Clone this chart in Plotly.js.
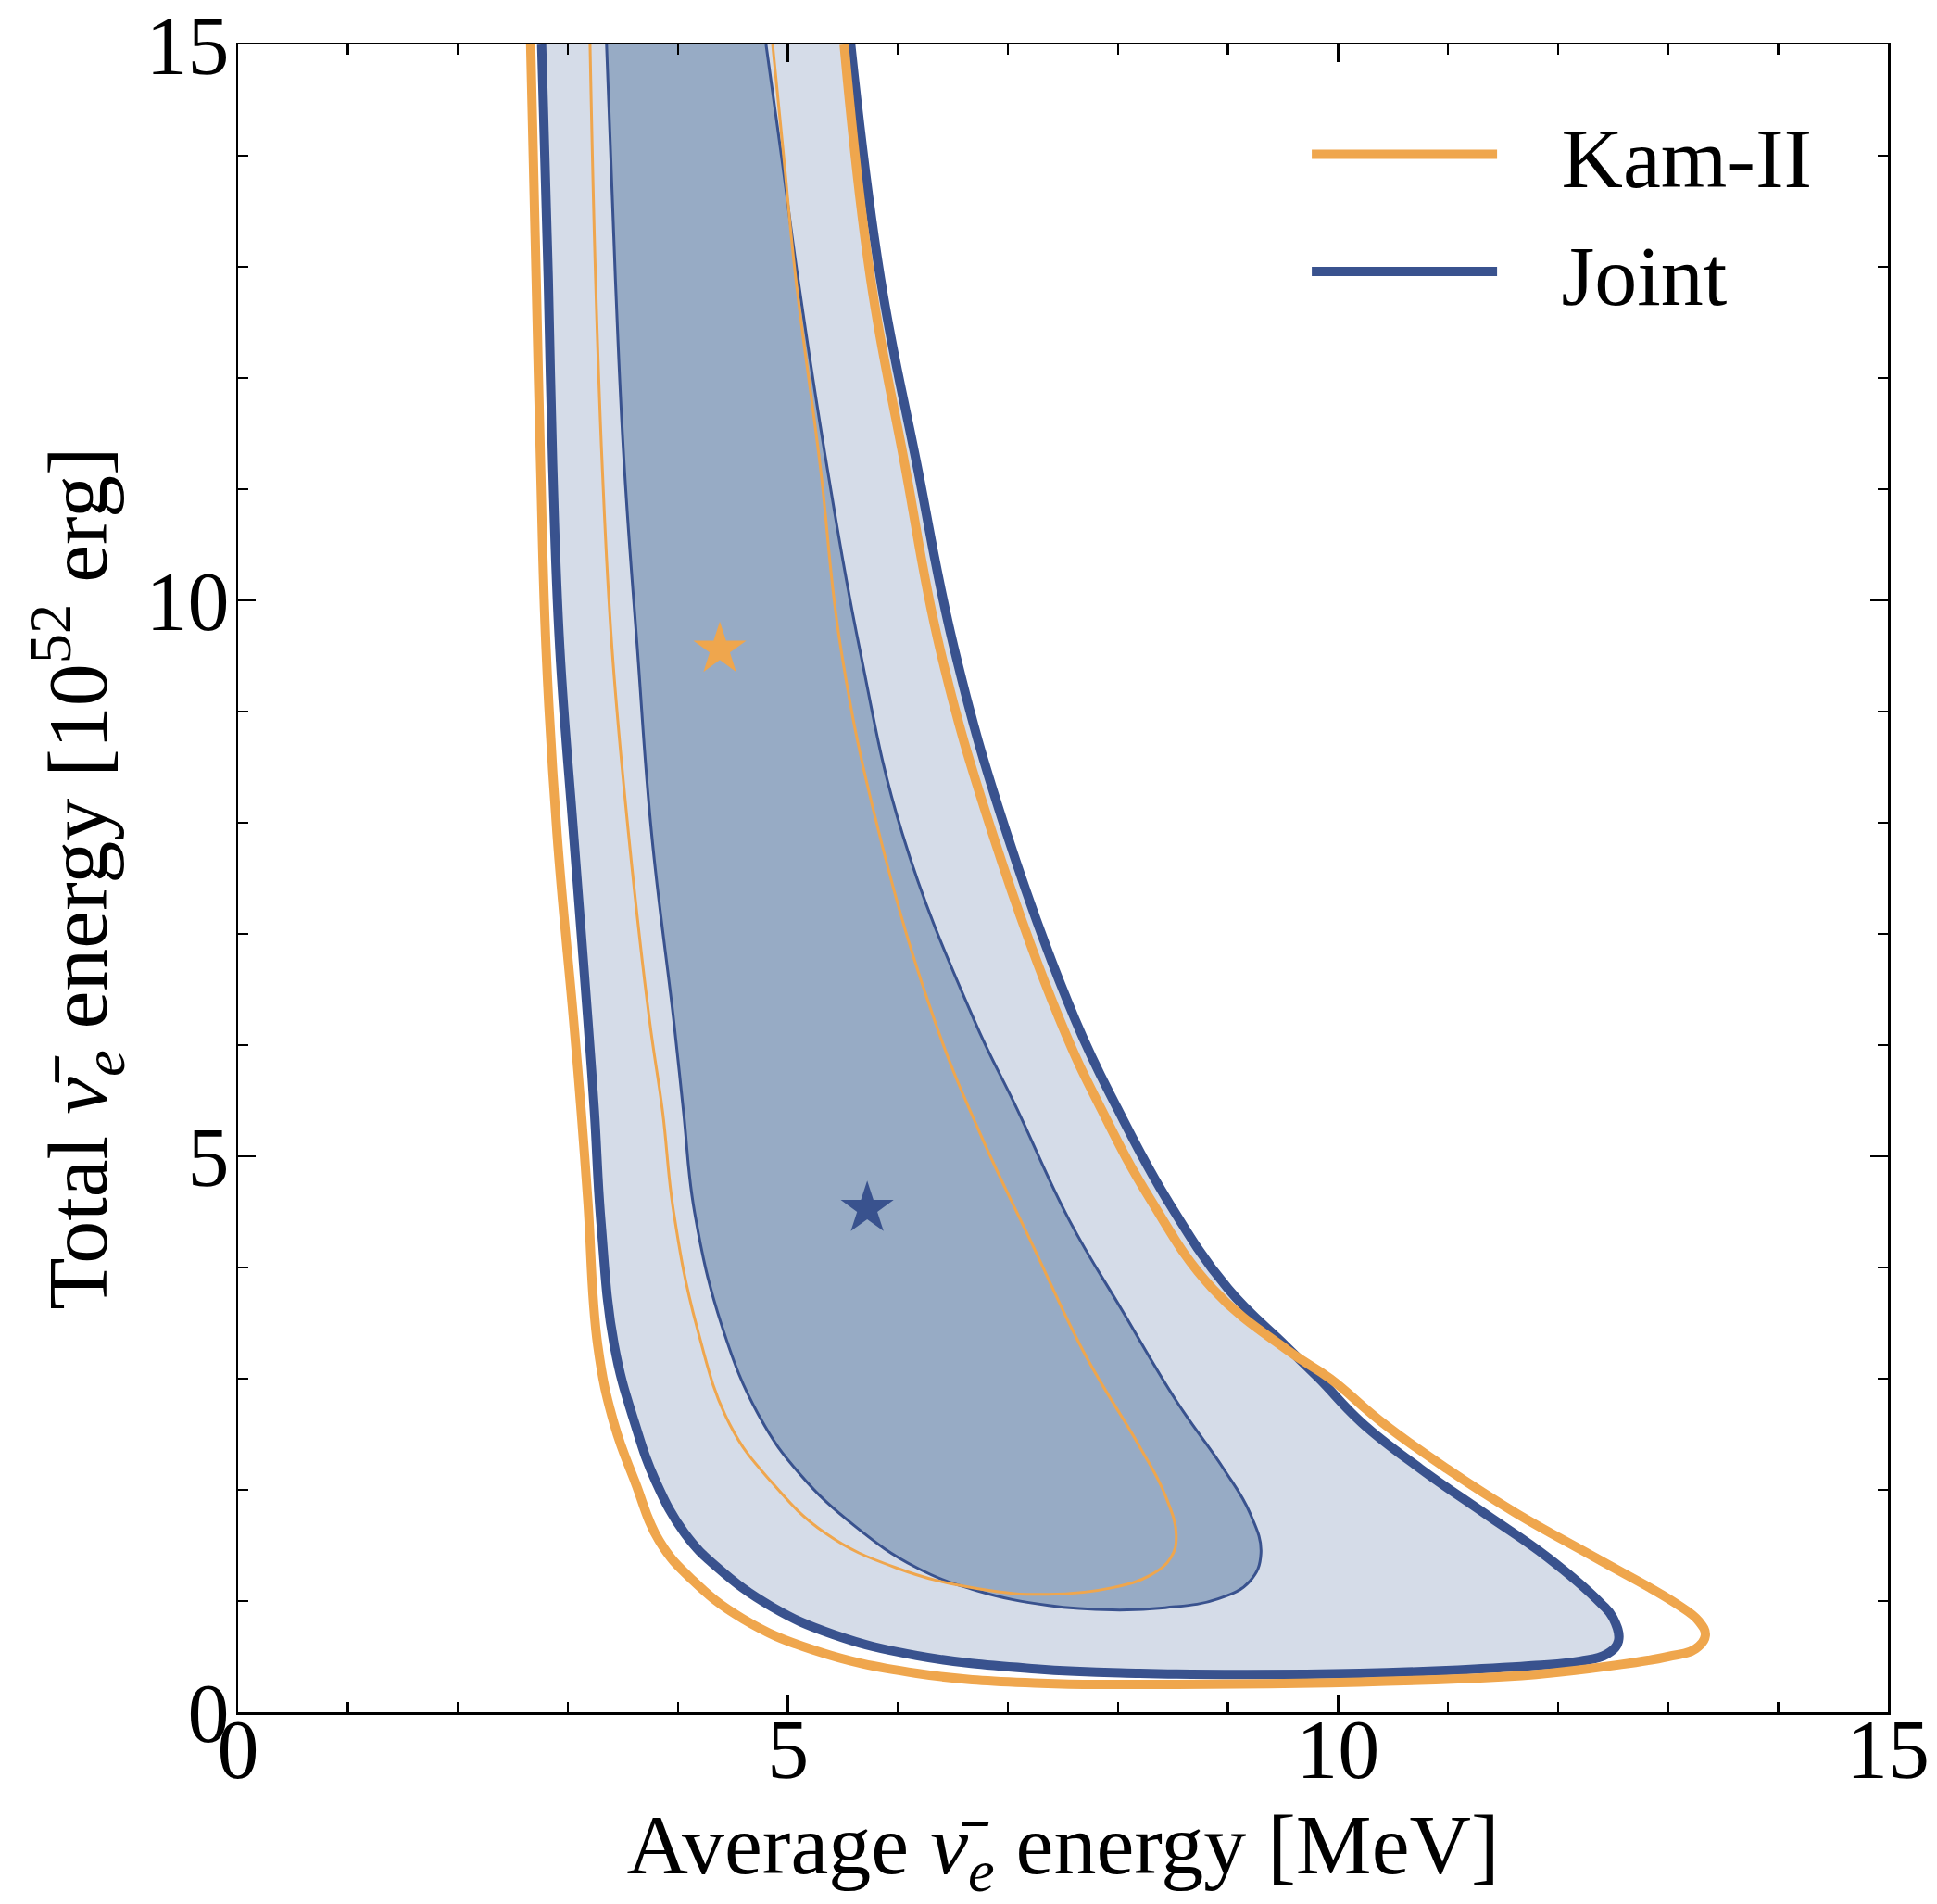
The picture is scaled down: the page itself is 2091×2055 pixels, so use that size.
<!DOCTYPE html>
<html><head><meta charset="utf-8">
<script src="https://cdn.plot.ly/plotly-3.0.1.min.js"></script>
<style>html,body{margin:0;padding:0;background:#fff}</style>
</head><body>
<div id="chart" style="width:2091px;height:2055px"></div>
<script>
// Kam-II 90% contour
const kam90X = [2.66, 2.71, 2.75, 2.80, 2.90, 3.05, 3.12, 3.18, 3.27, 3.42, 3.61, 3.83, 4.13, 4.59, 5.23, 6.17, 7.30, 8.19, 9.64, 11.09, 11.80, 12.50, 13.00, 13.25, 13.34, 13.28, 13.07, 12.34, 11.62, 10.99, 10.41, 9.93, 9.55, 8.86, 8.29, 7.85, 7.47, 6.86, 6.38, 6.06, 5.75, 5.51];
const kam90Y = [15.0, 12.9, 11.23, 9.57, 7.9, 6.23, 5.4, 4.6, 3.30, 2.59, 2.07, 1.54, 1.19, 0.84, 0.56, 0.35, 0.26, 0.25, 0.26, 0.30, 0.34, 0.42, 0.50, 0.57, 0.69, 0.82, 0.98, 1.39, 1.79, 2.19, 2.60, 3.00, 3.25, 3.81, 4.62, 5.42, 6.23, 7.9, 9.57, 11.23, 12.9, 15.0];
// Kam-II 68% contour
const kam68X = [3.20, 3.25, 3.31, 3.40, 3.55, 3.74, 3.86, 3.96, 4.17, 4.47, 4.85, 5.34, 5.98, 6.73, 7.37, 7.95, 8.29, 8.48, 8.53, 8.43, 8.19, 7.71, 7.22, 6.74, 6.33, 5.83, 5.48, 5.29, 5.07, 4.96, 4.86];
const kam68Y = [15.0, 12.9, 11.23, 9.57, 7.9, 6.23, 5.4, 4.5, 3.47, 2.59, 2.07, 1.61, 1.30, 1.11, 1.06, 1.12, 1.23, 1.39, 1.59, 1.95, 2.40, 3.20, 4.21, 5.22, 6.23, 7.9, 9.57, 11.23, 12.9, 14.0, 15.0];
// Joint 90% contour
const joint90X = [2.76, 2.82, 2.86, 2.925, 3.05, 3.18, 3.24, 3.30, 3.42, 3.61, 3.80, 4.06, 4.36, 4.85, 5.41, 6.17, 7.25, 8.20, 9.15, 10.20, 11.09, 11.80, 12.20, 12.44, 12.55, 12.50, 12.39, 11.91, 11.33, 10.75, 10.22, 9.83, 9.52, 9.00, 8.44, 8.00, 7.61, 6.99, 6.51, 6.17, 5.84, 5.57];
const joint90Y = [15.0, 12.9, 11.23, 9.57, 7.9, 6.23, 5.4, 4.4, 3.30, 2.59, 2.07, 1.61, 1.30, 0.95, 0.70, 0.51, 0.39, 0.35, 0.34, 0.35, 0.38, 0.42, 0.46, 0.52, 0.64, 0.85, 0.98, 1.39, 1.79, 2.19, 2.60, 3.00, 3.30, 3.81, 4.62, 5.42, 6.23, 7.9, 9.57, 11.23, 12.9, 15.0];
// Joint 68% contour
const joint68X = [3.35, 3.43, 3.51, 3.63, 3.76, 3.96, 4.05, 4.15, 4.40, 4.74, 5.11, 5.60, 6.17, 6.73, 7.37, 7.95, 8.43, 8.91, 9.20, 9.30, 9.20, 8.96, 8.53, 8.04, 7.56, 7.08, 6.69, 6.04, 5.65, 5.35, 5.09, 4.94, 4.80];
const joint68Y = [15.0, 12.9, 11.23, 9.57, 7.9, 6.23, 5.4, 4.5, 3.47, 2.66, 2.14, 1.68, 1.30, 1.09, 0.96, 0.92, 0.94, 1.02, 1.18, 1.43, 1.79, 2.19, 2.80, 3.61, 4.42, 5.43, 6.23, 7.9, 9.57, 11.23, 12.9, 14.0, 15.0];
// best-fit points
const bestKamX = [4.38], bestKamY = [9.56];
const bestJointX = [5.72], bestJointY = [4.53];
// legend labels
const seriesNames = ['Kam-II', 'Joint'];

const ORANGE = '#efa64d', BLUE = '#39528e';
const FILL90 = '#d5dce8', FILL68 = '#97abc5';
const FONT = 'Liberation Serif, Times New Roman, serif';
const GAP = '\u2002\u2009';
const NUBAR = '<i>ν̄<sub>e</sub></i>';

const sp = {shape: 'spline', smoothing: 1.2};
const traces = [
  {x: joint90X, y: joint90Y, mode: 'lines', fill: 'toself', fillcolor: FILL90,
   line: Object.assign({width: 0, color: FILL90}, sp), showlegend: false, hoverinfo: 'skip'},
  {x: joint68X, y: joint68Y, mode: 'lines', fill: 'toself', fillcolor: FILL68,
   line: Object.assign({width: 0, color: FILL68}, sp), showlegend: false, hoverinfo: 'skip'},
  {x: joint90X, y: joint90Y, mode: 'lines', name: GAP + seriesNames[1], legendrank: 2, legendgroup: 'joint',
   line: Object.assign({width: 10, color: BLUE}, sp)},
  {x: joint68X, y: joint68Y, mode: 'lines', showlegend: false, legendgroup: 'joint',
   line: Object.assign({width: 3, color: BLUE}, sp)},
  {x: kam90X, y: kam90Y, mode: 'lines', name: GAP + seriesNames[0], legendrank: 1, legendgroup: 'kam',
   line: Object.assign({width: 10, color: ORANGE}, sp)},
  {x: kam68X, y: kam68Y, mode: 'lines', showlegend: false, legendgroup: 'kam',
   line: Object.assign({width: 3, color: ORANGE}, sp)},
  {x: bestKamX, y: bestKamY, mode: 'markers', showlegend: false,
   marker: {symbol: 'star', size: 43, color: ORANGE}},
  {x: bestJointX, y: bestJointY, mode: 'markers', showlegend: false,
   marker: {symbol: 'star', size: 43, color: BLUE}}
];

const axisCommon = {
  range: [0, 15], tick0: 0, dtick: 5, ticks: 'inside', ticklen: 19, tickwidth: 2.5, tickcolor: '#000',
  showline: true, linewidth: 2.5, linecolor: '#000', mirror: 'allticks',
  showgrid: false, zeroline: false, ticklabeloverflow: 'allow',
  tickfont: {family: FONT, size: 90, color: '#000'},
  minor: {dtick: 1, ticks: 'inside', ticklen: 11, tickwidth: 2.5, tickcolor: '#000', showgrid: false}
};

const layout = {
  width: 2091, height: 2055,
  margin: {l: 257, r: 53, t: 48, b: 207, pad: 0},
  paper_bgcolor: '#fff', plot_bgcolor: '#fff',
  font: {family: FONT, color: '#000'},
  xaxis: Object.assign({}, axisCommon, {
    ticklabelstandoff: -40,
    title: {text: 'Average ' + NUBAR + ' energy [MeV]', font: {family: FONT, size: 92}, standoff: 85}
  }),
  yaxis: Object.assign({}, axisCommon, {
    ticklabelstandoff: -11,
    title: {text: 'Total ' + NUBAR + ' energy [10<sup>52</sup> erg]', font: {family: FONT, size: 92}, standoff: 12}
  }),
  legend: {x: 0.648, xanchor: 'left', y: 0.971, yanchor: 'top', bgcolor: 'rgba(0,0,0,0)',
           font: {family: FONT, size: 92}, itemwidth: 200, tracegroupgap: 4},
  showlegend: true
};

Plotly.newPlot('chart', traces, layout, {displayModeBar: false, staticPlot: true});
</script>
</body></html>
